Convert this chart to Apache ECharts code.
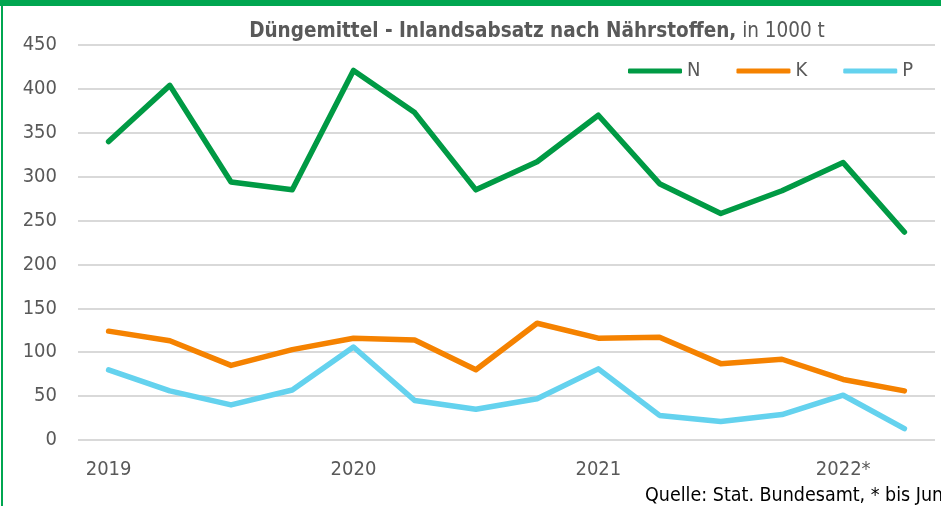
<!DOCTYPE html>
<html><head><meta charset="utf-8">
<script src="https://cdn.jsdelivr.net/npm/echarts@6/dist/echarts.min.js"></script>
<style>html,body{margin:0;padding:0;background:#fff}#c{width:941px;height:506px}</style>
</head><body><div id="c"></div>
<script>
const categories = ['2019','2019 Q2','2019 Q3','2019 Q4','2020','2020 Q2','2020 Q3','2020 Q4','2021','2021 Q2','2021 Q3','2021 Q4','2022*','2022 Q2'];
const tickLabels = {0:'2019',4:'2020',8:'2021',12:'2022*'};
const seriesN = [340,404,294,285,421,373,285,317,370,292,258,284,316,237];
const seriesK = [124,113,85,103,116,114,80,133,116,117,87,92,69,56];
const seriesP = [80,56,40,57,106,45,35,47,81,28,21,29,51,13];
const yTicks = [0,50,100,150,200,250,300,350,400,450];

const FONT = 'DejaVu Sans Condensed';
const TXT = '#595959';
const chart = echarts.init(document.getElementById('c'), null, {renderer:'canvas'});
function line(name, data, color){
  return {name, type:'line', data, symbol:'none', smooth:false,
    lineStyle:{color, width:5.5, cap:'round', join:'round'}, itemStyle:{color}};
}
chart.setOption({
  animation:false,
  backgroundColor:'#fff',
  title:{
    text:'{b|Düngemittel - Inlandsabsatz nach Nährstoffen,}{n| in 1000 t}',
    left:532, top:16, textAlign:'center',
    textStyle:{rich:{
      b:{fontFamily:FONT, fontSize:20.5, fontWeight:'bold', color:TXT},
      n:{fontFamily:FONT, fontSize:20.5, fontWeight:'normal', color:TXT}
    }}
  },
  legend:{
    left:628, top:61, padding:0, itemWidth:54, itemHeight:5, itemGap:36,
    icon:'roundRect',
    textStyle:{fontFamily:FONT, fontSize:20, color:TXT},
    data:['N','K','P']
  },
  grid:{left:78, right:6, top:45, bottom:66, containLabel:false},
  xAxis:{
    type:'category', data:categories, boundaryGap:true,
    axisLine:{show:false}, axisTick:{show:false},
    axisLabel:{interval:0, formatter:(v,i)=>tickLabels[i]||'', fontFamily:FONT, fontSize:20, color:TXT, margin:20}
  },
  yAxis:{
    type:'value', min:yTicks[0], max:yTicks[yTicks.length-1], interval:50,
    axisLine:{show:false}, axisTick:{show:false},
    axisLabel:{fontFamily:FONT, fontSize:20, color:TXT, margin:21},
    splitLine:{lineStyle:{color:'#d9d9d9', width:2}}
  },
  series:[line('N',seriesN,'#009a44'), line('K',seriesK,'#f58200'), line('P',seriesP,'#64d2ee')],
  graphic:[
    {type:'rect', shape:{x:0,y:0,width:941,height:6}, style:{fill:'#00a650'}, silent:true},
    {type:'rect', shape:{x:1,y:0,width:2,height:506}, style:{fill:'#00a650'}, silent:true},
    {type:'text', left:645, top:486, style:{text:'Quelle: Stat. Bundesamt, * bis Juni', fontFamily:FONT, fontSize:19.5, fill:'#000'}}
  ]
});
</script></body></html>
